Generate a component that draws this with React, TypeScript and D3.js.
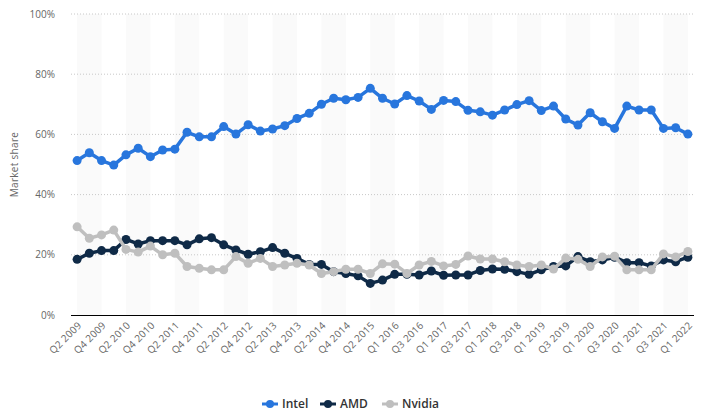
import React from 'react';
import * as d3 from 'd3';

const quarters = [
  'Q2 2009', 'Q3 2009', 'Q4 2009',
  'Q1 2010', 'Q2 2010', 'Q3 2010', 'Q4 2010',
  'Q1 2011', 'Q2 2011', 'Q3 2011', 'Q4 2011',
  'Q1 2012', 'Q2 2012', 'Q3 2012', 'Q4 2012',
  'Q1 2013', 'Q2 2013', 'Q3 2013', 'Q4 2013',
  'Q1 2014', 'Q2 2014', 'Q3 2014', 'Q4 2014',
  'Q1 2015', 'Q2 2015', 'Q3 2015',
  'Q1 2016', 'Q2 2016', 'Q3 2016', 'Q4 2016',
  'Q1 2017', 'Q2 2017', 'Q3 2017', 'Q4 2017',
  'Q1 2018', 'Q2 2018', 'Q3 2018', 'Q4 2018',
  'Q1 2019', 'Q2 2019', 'Q3 2019', 'Q4 2019',
  'Q1 2020', 'Q2 2020', 'Q3 2020', 'Q4 2020',
  'Q1 2021', 'Q2 2021', 'Q3 2021', 'Q4 2021',
  'Q1 2022',
];

const intel = [
  51.3, 53.9, 51.3, 49.8, 53.2, 55.4, 52.6, 54.8, 55.1, 60.7,
  59.2, 59.2, 62.6, 60.1, 63.2, 61.1, 61.8, 62.9, 65.3, 67.0,
  70.0, 72.0, 71.5, 72.3, 75.3, 72.0, 70.1, 72.9, 71.1, 68.3,
  71.3, 70.9, 68.0, 67.5, 66.4, 68.1, 69.9, 71.2, 67.9, 69.4,
  65.1, 63.1, 67.2, 64.2, 62.0, 69.4, 68.1, 68.1, 62.0, 62.2,
  60.1,
];

const amd = [
  18.5, 20.5, 21.4, 21.4, 25.1, 23.6, 24.7, 24.7, 24.7, 23.3,
  25.3, 25.7, 23.3, 21.6, 20.2, 21.0, 22.4, 20.5, 18.8, 16.8,
  16.8, 14.4, 13.8, 13.0, 10.5, 11.6, 13.5, 13.5, 13.3, 14.6,
  13.2, 13.3, 13.3, 14.8, 15.3, 15.2, 14.4, 13.5, 15.0, 16.1,
  16.3, 19.4, 17.7, 18.3, 19.2, 17.4, 17.4, 16.3, 18.3, 17.7,
  19.2,
];

const nvidia = [
  29.3, 25.5, 26.6, 28.2, 21.8, 20.9, 22.9, 20.0, 20.5, 16.1,
  15.5, 15.0, 15.0, 19.4, 17.2, 18.8, 16.1, 16.6, 17.2, 16.6,
  13.8, 14.4, 15.2, 15.2, 13.8, 17.0, 16.9, 13.8, 16.6, 17.8,
  16.3, 16.8, 19.6, 18.6, 18.6, 17.7, 16.6, 16.1, 16.6, 15.3,
  18.9, 18.5, 16.1, 19.3, 19.5, 15.0, 15.0, 15.0, 20.3, 19.3,
  21.1,
];

const yTicks = [0, 20, 40, 60, 80, 100];

const series = [
  { name: 'Intel', values: intel, color: '#2876dd' },
  { name: 'AMD', values: amd, color: '#0f2a47' },
  { name: 'Nvidia', values: nvidia, color: '#bfbfbf' },
];

const W = 708;
const H = 419;
const left = 71;
const right = 694;
const top = 14;
const bottom = 315;

const font = '"Open Sans", "DejaVu Sans", sans-serif';

export default function App() {
  const x = d3.scalePoint<number>()
    .domain(d3.range(quarters.length))
    .range([left, right])
    .padding(0.5);
  const y = d3.scaleLinear().domain([0, 100]).range([bottom, top]);

  const line = d3.line<number>()
    .x((_, i) => x(i) as number)
    .y((d) => y(d));

  const bandIdx = d3.range(0, quarters.length - 2, 4);
  const labelIdx = d3.range(0, quarters.length, 2);

  const legendX = [262, 320, 382];

  return (
    <svg width={W} height={H} style={{ position: 'absolute', left: 0, top: 0, fontFamily: font }}>
      <rect width={W} height={H} fill="#fff" />
      {bandIdx.map((i) => (
        <rect key={i} x={x(i)} y={top} width={(x(i + 2) as number) - (x(i) as number)}
          height={bottom - top} fill="#fafafa" />
      ))}
      {yTicks.filter((t) => t > 0).map((t) => (
        <line key={t} x1={left} x2={right} y1={y(t)} y2={y(t)}
          stroke="#c8c8c8" strokeWidth={1} strokeDasharray="1,2" />
      ))}
      <line x1={left} x2={right} y1={bottom + 0.5} y2={bottom + 0.5} stroke="#000" strokeWidth={1} />
      {yTicks.map((t) => (
        <text key={t} x={55} y={y(t)} dy="0.35em" textAnchor="end" fontSize={10} fill="#666">
          {t}%
        </text>
      ))}
      <text transform={`translate(18,${(top + bottom) / 2}) rotate(-90)`} textAnchor="middle"
        fontSize={10} fill="#666" letterSpacing="0.3">
        Market share
      </text>
      {labelIdx.map((i) => (
        <text key={i} transform={`translate(${(x(i) as number) + 5},${bottom + 11}) rotate(-45)`}
          textAnchor="end" fontSize={10} fill="#666" letterSpacing="0.2">
          {quarters[i]}
        </text>
      ))}
      {series.map((s) => (
        <g key={s.name}>
          <path d={line(s.values) || ''} fill="none" stroke={s.color} strokeWidth={3.5}
            strokeLinejoin="round" />
          {s.values.map((v, i) => (
            <circle key={i} cx={x(i)} cy={y(v)} r={4.5} fill={s.color} />
          ))}
        </g>
      ))}
      {series.map((s, k) => (
        <g key={s.name} transform={`translate(${legendX[k]},404)`}>
          <line x1={0} x2={16} y1={0} y2={0} stroke={s.color} strokeWidth={3} />
          <circle cx={8} cy={0} r={4} fill={s.color} />
          <text x={20} y={0} dy="0.35em" fontSize={12} fill="#333" fontWeight={600}>{s.name}</text>
        </g>
      ))}
    </svg>
  );
}
